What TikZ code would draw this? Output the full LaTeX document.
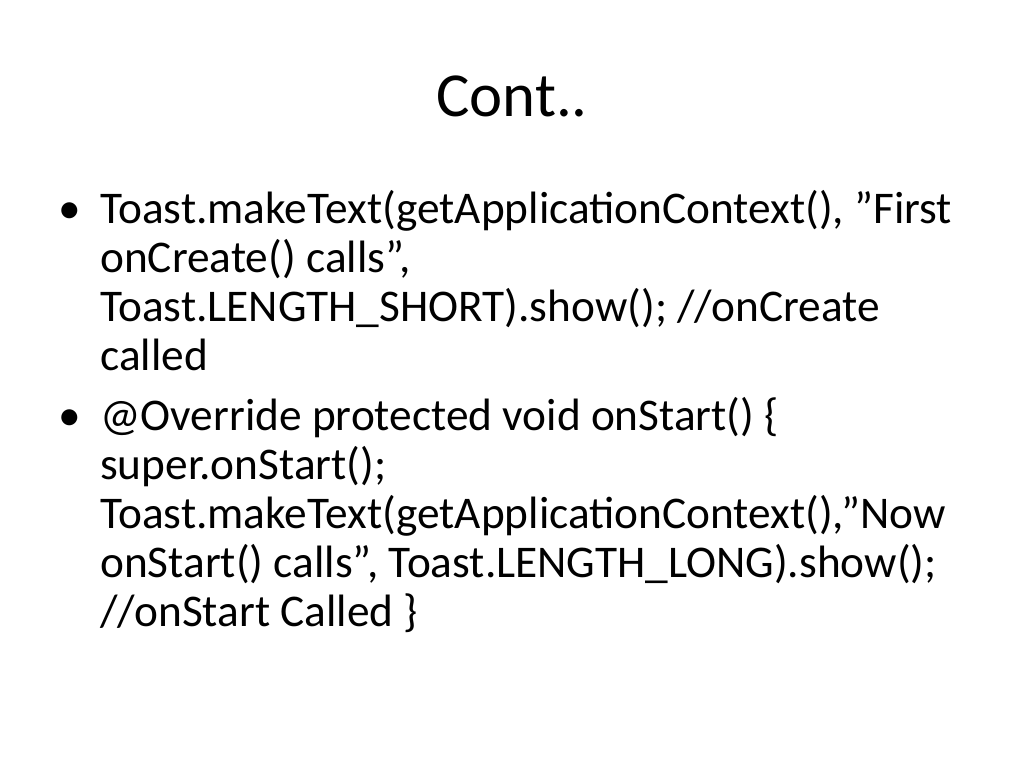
\documentclass[tikz,border=0pt]{standalone}
\usepackage{fontspec}
\setmainfont{Carlito}
\begin{document}
\begin{tikzpicture}[x=0.75pt,y=-0.75pt,
  body/.style={anchor=base west,inner sep=0pt,font=\fontsize{34}{40}\selectfont},
  title/.style={anchor=base,inner sep=0pt,font=\fontsize{47}{56}\selectfont}]
\useasboundingbox[fill=white] (0,0) rectangle (1024,768);
\node[title] (t) at (512,116) {Cont..};
\node[body] (b1) at (58,223) {•};
\node[body] (l1) at (100,223) {Toast.makeText(getApplicationContext(), "First};
\node[body] (l2) at (100,272) {onCreate() calls",};
\node[body] (l3) at (100,321) {Toast.LENGTH\_SHORT).show(); //onCreate};
\node[body] (l4) at (100,370) {called};
\node[body] (b2) at (58,430) {•};
\node[body] (l5) at (100,430) {@Override protected void onStart() \{};
\node[body] (l6) at (100,479) {super.onStart();};
\node[body] (l7) at (100,528) {Toast.makeText(getApplicationContext(),"Now};
\node[body] (l8) at (100,577) {onStart() calls", Toast.LENGTH\_LONG).show();};
\node[body] (l9) at (100,626) {//onStart Called \}};
\end{tikzpicture}
\end{document}
